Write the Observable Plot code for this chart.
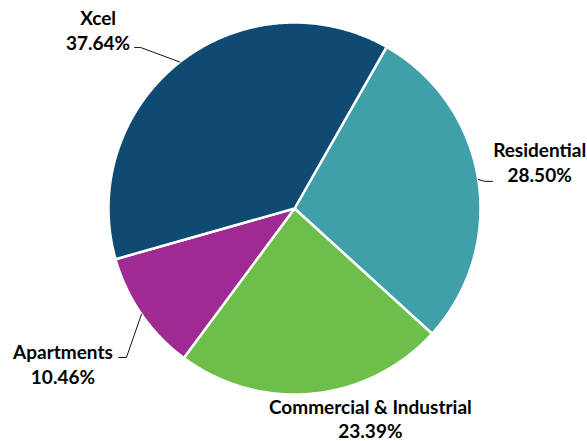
<!DOCTYPE html>
<html>
<head>
<meta charset="utf-8">
<script src="https://cdn.jsdelivr.net/npm/d3@7"></script>
<script src="https://cdn.jsdelivr.net/npm/@observablehq/plot@0.6"></script>
<style>
  html, body { margin: 0; padding: 0; background: #fff; }
</style>
</head>
<body>
<div id="chart"></div>
<script>
// ---- data ----
const categories = ["Residential", "Commercial & Industrial", "Apartments", "Xcel"];
const shares = [28.50, 23.39, 10.46, 37.64];
const colors = ["#40a0a9", "#6dbe4a", "#9e2a92", "#0e4a72"];

// ---- layout (not data) ----
const startAngle = 29.7;  // degrees clockwise from 12 o'clock where the first slice begins
// label block centres in unit-circle coordinates, plus leader elbow/end points
const labelLayout = {
  "Residential": {x: 1.318, y: 0.252, leader: [[1.0215, 0.146], [1.065, 0.146]]},
  "Commercial & Industrial": {x: 0.408, y: -1.126, leader: null},
  "Apartments": {x: -1.245, y: -0.834, leader: [[-0.9035, -0.801], [-0.946, -0.801]]},
  "Xcel": {x: -1.056, y: 0.961, leader: [[-0.828, 0.866], [-0.860, 0.866]]}
};

// ---- build slices ----
const total = d3.sum(shares);
const rad = a => a * Math.PI / 180;
const pt = (a, r = 1) => [r * Math.sin(rad(a)), r * Math.cos(rad(a))];
let acc = startAngle;
const slices = categories.map((c, i) => {
  const a0 = acc, a1 = acc + shares[i] / total * 360;
  acc = a1;
  return {label: c, value: shares[i], a0, a1, mid: (a0 + a1) / 2};
});
const polyPts = [];
for (const s of slices) {
  polyPts.push({label: s.label, x: 0, y: 0});
  const n = Math.max(2, Math.ceil(s.a1 - s.a0) * 2);
  for (let k = 0; k <= n; k++) {
    const [x, y] = pt(s.a0 + (s.a1 - s.a0) * k / n);
    polyPts.push({label: s.label, x, y});
  }
  polyPts.push({label: s.label, x: 0, y: 0});
}
const leaderPts = [];
for (const s of slices) {
  const L = labelLayout[s.label];
  if (!L.leader) continue;
  const [x, y] = pt(s.mid);
  leaderPts.push({label: s.label, x, y});
  for (const [lx, ly] of L.leader) leaderPts.push({label: s.label, x: lx, y: ly});
}
const labels = slices.map(s => ({
  label: s.label,
  x: labelLayout[s.label].x,
  y: labelLayout[s.label].y,
  text: `${s.label}\n${s.value.toFixed(2)}%`
}));

const chart = Plot.plot({
  width: 587,
  height: 441,
  margin: 0,
  x: {domain: [-1, 1], range: [108, 480], axis: null},
  y: {domain: [-1, 1], range: [394, 22], axis: null},
  color: {domain: categories, range: colors},
  style: {background: "#fff"},
  marks: [
    Plot.line(polyPts, {x: "x", y: "y", z: "label", fill: "label", stroke: "white", strokeWidth: 2.5, strokeLinejoin: "round", curve: "linear"}),
    Plot.line(leaderPts, {x: "x", y: "y", z: "label", stroke: "#111", strokeWidth: 1}),
    Plot.text(labels, {x: "x", y: "y", text: "text", fill: "#000", fontSize: 19, fontWeight: "bold", fontFamily: "Lato, 'Open Sans', sans-serif", lineHeight: 1.29, textAnchor: "middle"})
  ]
});
document.getElementById("chart").appendChild(chart);
</script>
</body>
</html>
